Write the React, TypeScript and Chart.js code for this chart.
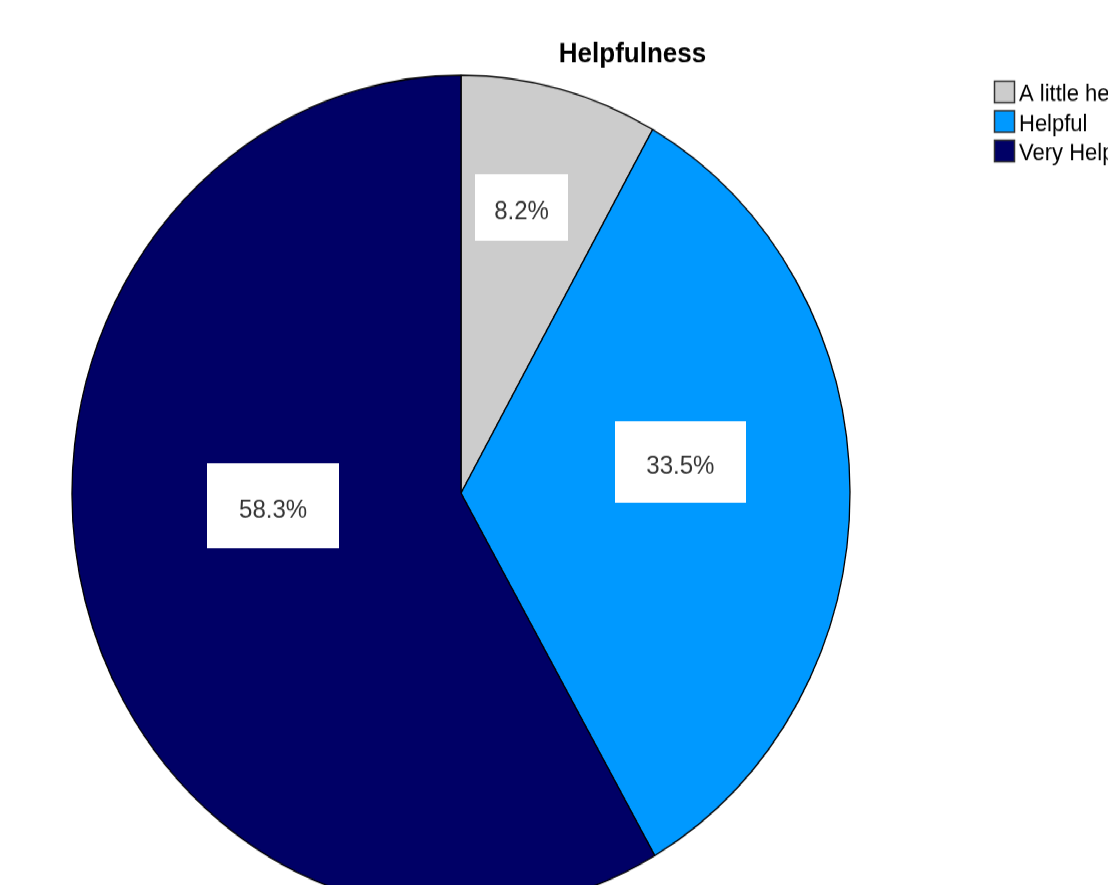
import React, { useEffect, useRef } from "react";
import { Chart, registerables } from "chart.js";

Chart.register(...registerables);

const title = "Helpfulness";
const categories = ["A little helpful", "Helpful", "Very Helpful"];
const percents = [8.2, 33.5, 58.3];
const colors = ["#cccccc", "#0099ff", "#000066"];

// styling / placement (not data)
const STRETCH_Y = 1.0746;
const CANVAS_W = 1108;
const CANVAS_H = 824;
const PIE_RADIUS = 389;
// label box centers as fractions of radius from pie centre, and box sizes
const labelOffsets = [
  [0.1555, -0.683],
  [0.564, -0.0743],
  [-0.483, 0.0298],
];
const labelBoxes = [
  [93, 62],
  [131, 76],
  [132, 79],
];

const overlayPlugin = {
  id: "overlay",
  afterDatasetsDraw(chart: any) {
    const ctx = chart.ctx as CanvasRenderingContext2D;
    const meta = chart.getDatasetMeta(0);
    ctx.save();
    // percent labels
    meta.data.forEach((arc: any, i: number) => {
      const { x, y, outerRadius } = arc.getProps(["x", "y", "outerRadius"], true);
      const cx = x + labelOffsets[i][0] * outerRadius;
      const cy = y + labelOffsets[i][1] * outerRadius;
      const [w, h] = labelBoxes[i];
      ctx.fillStyle = "#ffffff";
      ctx.fillRect(Math.round(cx - w / 2), Math.round(cy - h / 2), w, h);
      ctx.fillStyle = "#333333";
      ctx.font = "24px 'Liberation Sans', Arial, sans-serif";
      ctx.textAlign = "center";
      ctx.textBaseline = "middle";
      ctx.fillText(percents[i].toFixed(1) + "%", cx, cy + 4.5);
    });
    // title
    ctx.fillStyle = "#000000";
    ctx.font = "bold 26px 'Liberation Sans', Arial, sans-serif";
    ctx.textAlign = "center";
    ctx.textBaseline = "middle";
    ctx.fillText(title, 632.5, 51);
    // legend
    ctx.font = "22px 'Liberation Sans', Arial, sans-serif";
    ctx.textAlign = "left";
    categories.forEach((c, i) => {
      const top = 75.5 + i * 27.5;
      ctx.fillStyle = colors[i];
      ctx.fillRect(994.5, top, 20, 20);
      ctx.strokeStyle = "#333333";
      ctx.lineWidth = 1.5;
      ctx.strokeRect(994.5, top, 20, 20);
      ctx.fillStyle = "#000000";
      ctx.fillText(c, 1019, top + 12.5);
    });
    ctx.restore();
  },
};

export default function App() {
  const ref = useRef<HTMLCanvasElement>(null);
  useEffect(() => {
    const canvas = ref.current!;
    const chart = new Chart(canvas, {
      type: "pie",
      data: {
        labels: categories,
        datasets: [
          {
            data: percents,
            backgroundColor: colors,
            borderColor: "#000000",
            borderWidth: 1.3,
            radius: PIE_RADIUS,
            clip: false,
          } as any,
        ],
      },
      options: {
        animation: false,
        responsive: false,
        devicePixelRatio: 1,
        layout: { padding: { left: 0, right: 186, top: 94, bottom: 0 } },
        plugins: {
          legend: { display: false },
          title: { display: false },
          tooltip: { enabled: false },
        },
      } as any,
      plugins: [overlayPlugin],
    });
    return () => chart.destroy();
  }, []);
  return (
    <div
      style={{
        position: "absolute",
        left: 0,
        top: 0,
        width: CANVAS_W,
        height: CANVAS_H,
        transform: `scaleY(${STRETCH_Y})`,
        transformOrigin: "0 0",
        background: "#ffffff",
      }}
    >
      <canvas
        ref={ref}
        width={CANVAS_W}
        height={CANVAS_H}
        style={{ width: CANVAS_W + "px", height: CANVAS_H + "px", display: "block" }}
      />
    </div>
  );
}
